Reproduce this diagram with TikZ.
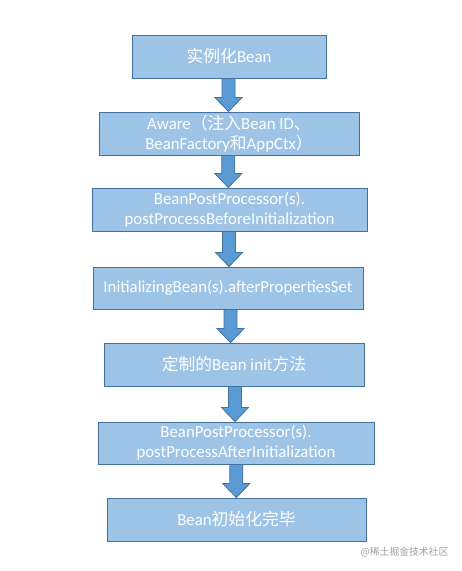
\documentclass[tikz,border=0pt]{standalone}
\usepackage{fontspec}
\setmainfont{Carlito}
\newfontfamily\cjk{Noto Sans CJK SC}
\usetikzlibrary{calc}
\definecolor{boxfill}{RGB}{157,195,230}
\definecolor{boxline}{RGB}{65,113,156}
\definecolor{arrfill}{RGB}{91,155,213}
\definecolor{wm}{RGB}{160,160,160}
\tikzset{
  stepbox/.style={draw=boxline, line width=0.9pt, fill=boxfill, text=white,
    inner sep=0pt, align=center, font=\fontsize{16.8}{20}\selectfont},
  barrow/.style={draw=boxline, line width=0.8pt, fill=arrfill, line join=miter},
}
\newcommand{\C}[1]{{\cjk #1}}
\newcommand{\blockarrow}[3]{%
  \draw[barrow] let \p1=(#1.south), \p2=(#2.north) in
    ({#3pt-6.5pt},\y1) -- ({#3pt+6.5pt},\y1) -- ({#3pt+6.5pt},{\y2+14pt}) --
    ({#3pt+13.5pt},{\y2+14pt}) -- ({#3pt},\y2) -- ({#3pt-13.5pt},{\y2+14pt}) --
    ({#3pt-6.5pt},{\y2+14pt}) -- cycle;}
\begin{document}
\begin{tikzpicture}[x=1pt,y=-1pt]
\useasboundingbox[fill=white] (0,0) rectangle (462,571);
\node[stepbox, minimum width=194pt, minimum height=43pt] (b1) at (229,56.5) {\C{实例化}Bean};
\node[stepbox, minimum width=260pt, minimum height=43pt] (b2) at (229,133.5) {Aware\C{（注入}Bean ID\C{、}\\BeanFactory\C{和}AppCtx\C{）}};
\node[stepbox, minimum width=275pt, minimum height=43pt] (b3) at (229.5,209.5) {BeanPostProcessor(s).\\postProcessBeforeInitialization};
\node[stepbox, minimum width=270pt, minimum height=42pt] (b4) at (228,288) {InitializingBean(s).afterPropertiesSet};
\node[stepbox, minimum width=260pt, minimum height=43pt] (b5) at (234,364.5) {\C{定制的}Bean init\C{方法}};
\node[stepbox, minimum width=276pt, minimum height=42pt] (b6) at (236,443) {BeanPostProcessor(s).\\postProcessAfterInitialization};
\node[stepbox, minimum width=259pt, minimum height=43pt] (b7) at (236.5,519.5) {Bean\C{初始化完毕}};
\blockarrow{b1}{b2}{228.5}
\blockarrow{b2}{b3}{228.3}
\blockarrow{b3}{b4}{229}
\blockarrow{b4}{b5}{230.5}
\blockarrow{b5}{b6}{235}
\blockarrow{b6}{b7}{236.3}
\node[text=wm, font=\cjk\fontsize{9.8}{11}\selectfont, inner sep=0pt] (wmk) at (404.5,552) {@稀土掘金技术社区};
\end{tikzpicture}
\end{document}
